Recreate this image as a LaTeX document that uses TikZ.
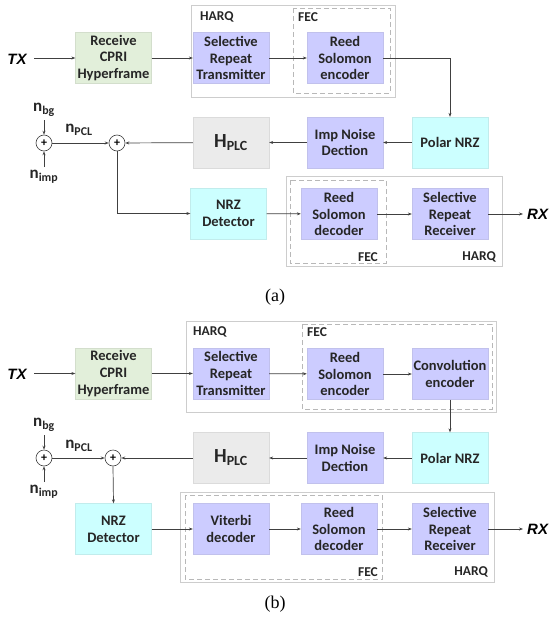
\documentclass[tikz,border=0pt]{standalone}
\usepackage{fontspec}
\setmainfont{Carlito}
\newfontfamily\arialf{Liberation Sans}
\newfontfamily\timesf{Liberation Serif}
\usetikzlibrary{arrows.meta}
\definecolor{cgreen}{RGB}{226,239,218}
\definecolor{clav}{RGB}{204,204,255}
\definecolor{ccyan}{RGB}{204,255,255}
\definecolor{cgray}{RGB}{235,235,235}
\definecolor{cline}{RGB}{64,64,64}
\definecolor{cframe}{RGB}{205,205,205}
\tikzset{
  blk/.style={minimum width=76pt, minimum height=51pt, inner sep=1pt, align=center,
     font=\fontsize{14.5}{16.7}\selectfont\bfseries, text=black!85, draw=#1!85!gray, line width=0.3pt, fill=#1},
  conn/.style={draw=cline, line width=0.7pt, -{Stealth[length=4pt,width=3pt]}},
  sumc/.style={circle, draw=cline, line width=0.6pt, minimum size=16pt, inner sep=0pt, font=\fontsize{12}{12}\selectfont\bfseries},
  harqbox/.style={draw=cframe, line width=0.7pt},
  fecbox/.style={draw=cframe!90!black, line width=0.7pt, dash pattern=on 5pt off 3pt},
  grplbl/.style={font=\fontsize{13.5}{13.5}\selectfont\bfseries, text=black!85, inner sep=0pt},
  io/.style={font=\arialf\fontsize{15}{15}\selectfont\bfseries\itshape, inner sep=0pt},
  nlbl/.style={font=\fontsize{17}{17}\selectfont\bfseries, inner sep=0pt, text=black!85},
  captxt/.style={font=\timesf\fontsize{18}{18}\selectfont, inner sep=0pt}
}
\begin{document}
\begin{tikzpicture}[x=1pt,y=-1pt]
\useasboundingbox (0,0) rectangle (550,623);
% ---------------- (a) ----------------
\draw[harqbox] (191,5) rectangle (395,97);
\draw[fecbox] (293,8) rectangle (390,93);
\node[grplbl, anchor=west] (aharq) at (200,17) {HARQ};
\node[grplbl, anchor=west] (afec) at (298,17) {FEC};
\draw[harqbox] (286,176) rectangle (502,266);
\draw[fecbox] (290,180) rectangle (386,263);
\node[grplbl, anchor=east] (afec2) at (378,257) {FEC};
\node[grplbl, anchor=east] (aharq2) at (496,257) {HARQ};

\node[io] (atx) at (17,59) {TX};
\coordinate (atxs) at (34,58);
\node[blk=cgreen] (arcv) at (113.5,58) {Receive\\CPRI\\Hyperframe};
\node[blk=clav] (asrt) at (231,58) {Selective\\Repeat\\Transmitter};
\node[blk=clav] (arse) at (345,58) {Reed\\Solomon\\encoder};
\node[blk=ccyan] (apol) at (450,142.5) {Polar NRZ};
\node[blk=clav] (aimp) at (345,142.5) {Imp Noise\\Dection};
\node[blk=cgray, font=\fontsize{20}{20}\selectfont\bfseries] (ahplc) at (231,142.5) {H\textsubscript{PLC}};
\node[sumc] (ac2) at (117,143) {+};
\node[sumc] (ac1) at (44,143) {+};
\node[nlbl] (anbg) at (44,110) {n\textsubscript{bg}};
\node[nlbl] (animp) at (44,177) {n\textsubscript{imp}};
\node[nlbl] (anpcl) at (79,130) {n\textsubscript{PCL}};
\coordinate (anbgs) at (44,120);
\coordinate (anims) at (44,167);
\node[blk=ccyan] (anrz) at (228.5,213.5) {NRZ\\Detector};
\node[blk=clav] (arsd) at (339,214) {Reed\\Solomon\\decoder};
\node[blk=clav] (asrr) at (450,214) {Selective\\Repeat\\Receiver};
\coordinate (arxe) at (523,214);
\node[io, anchor=west] (arx) at (527,214) {RX};

\draw[conn] (atxs) -- (arcv.west);
\draw[conn] (arcv) -- (asrt);
\draw[conn] (asrt) -- (arse);
\draw[conn] (arse.east) -| (apol.north);
\draw[conn] (apol) -- (aimp);
\draw[conn] (aimp) -- (ahplc);
\draw[conn] (ahplc) -- (ac2);
\draw[conn] (ac1) -- (ac2);
\draw[conn] (anbgs) -- (ac1.north);
\draw[conn] (anims) -- (ac1.south);
\draw[conn] (ac2.south) |- (anrz.west);
\draw[conn] (anrz) -- (arsd);
\draw[conn] (arsd) -- (asrr);
\draw[conn] (asrr.east) -- (arxe);
\node[captxt] (capa) at (275,297) {(a)};

% ---------------- (b) ----------------
\draw[harqbox] (186,321) rectangle (496,412);
\draw[fecbox] (302,324) rectangle (492,409);
\node[grplbl, anchor=west] (bharq) at (193,332) {HARQ};
\node[grplbl, anchor=west] (bfec) at (307,332) {FEC};
\draw[harqbox] (180,492) rectangle (494,582);
\draw[fecbox] (185,495) rectangle (382,579);
\node[grplbl, anchor=east] (bfec2) at (378,572) {FEC};
\node[grplbl, anchor=east] (bharq2) at (488,572) {HARQ};

\node[io] (btx) at (17,374) {TX};
\coordinate (btxs) at (34,373.5);
\node[blk=cgreen] (brcv) at (113.5,373.5) {Receive\\CPRI\\Hyperframe};
\node[blk=clav] (bsrt) at (231,373.5) {Selective\\Repeat\\Transmitter};
\node[blk=clav] (brse) at (345,374) {Reed\\Solomon\\encoder};
\node[blk=clav] (bconv) at (450,374) {Convolution\\encoder};
\node[blk=ccyan] (bpol) at (450,458) {Polar NRZ};
\node[blk=clav] (bimp) at (345,458) {Imp Noise\\Dection};
\node[blk=cgray, font=\fontsize{20}{20}\selectfont\bfseries] (bhplc) at (231,458) {H\textsubscript{PLC}};
\node[sumc] (bc2) at (113,458) {+};
\node[sumc] (bc1) at (44,458) {+};
\node[nlbl] (bnbg) at (44,425) {n\textsubscript{bg}};
\node[nlbl] (bnimp) at (44,492) {n\textsubscript{imp}};
\node[nlbl] (bnpcl) at (79,446) {n\textsubscript{PCL}};
\coordinate (bnbgs) at (44,435);
\coordinate (bnims) at (44,482);
\node[blk=ccyan] (bnrz) at (113.5,529) {NRZ\\Detector};
\node[blk=clav] (bvit) at (231,529) {Viterbi\\decoder};
\node[blk=clav] (brsd) at (339,529) {Reed\\Solomon\\decoder};
\node[blk=clav] (bsrr) at (450,529) {Selective\\Repeat\\Receiver};
\coordinate (brxe) at (523,529);
\node[io, anchor=west] (brx) at (527,529) {RX};

\draw[conn] (btxs) -- (brcv.west);
\draw[conn] (brcv) -- (bsrt);
\draw[conn] (bsrt) -- (brse);
\draw[conn] (brse) -- (bconv);
\draw[conn] (bconv) -- (bpol);
\draw[conn] (bpol) -- (bimp);
\draw[conn] (bimp) -- (bhplc);
\draw[conn] (bhplc) -- (bc2);
\draw[conn] (bc1) -- (bc2);
\draw[conn] (bnbgs) -- (bc1.north);
\draw[conn] (bnims) -- (bc1.south);
\draw[conn] (bc2.south) -- (bnrz.north);
\draw[conn] (bnrz) -- (bvit);
\draw[conn] (bvit) -- (brsd);
\draw[conn] (brsd) -- (bsrr);
\draw[conn] (bsrr.east) -- (brxe);
\node[captxt] (capb) at (275,604) {(b)};
\end{tikzpicture}
\end{document}
